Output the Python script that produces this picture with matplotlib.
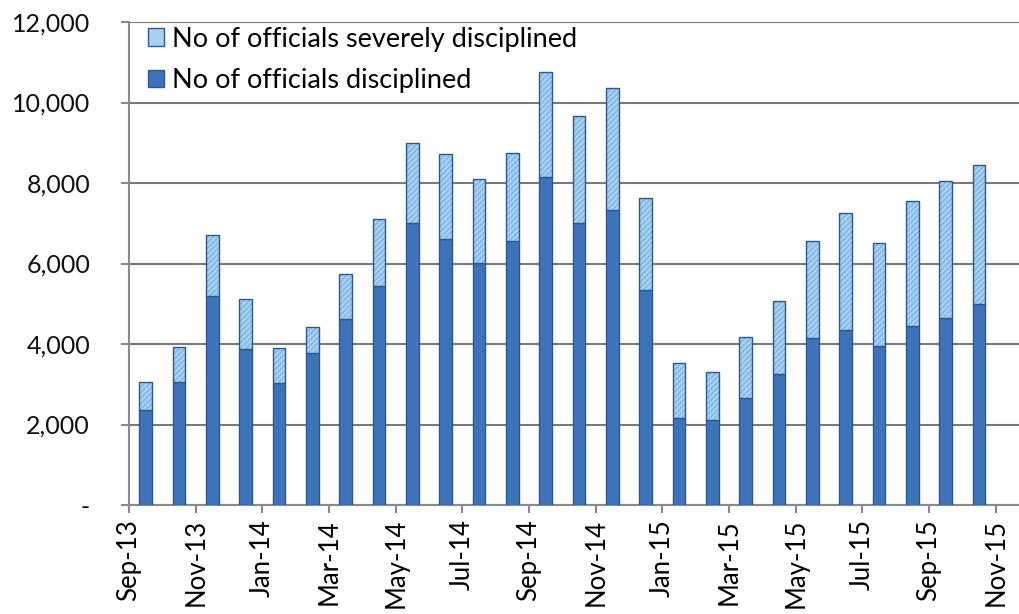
import matplotlib
matplotlib.use("Agg")
import matplotlib.pyplot as plt
from matplotlib.patches import Patch
import numpy as np

months = ["Sep-13", "Oct-13", "Nov-13", "Dec-13", "Jan-14", "Feb-14", "Mar-14",
          "Apr-14", "May-14", "Jun-14", "Jul-14", "Aug-14", "Sep-14", "Oct-14",
          "Nov-14", "Dec-14", "Jan-15", "Feb-15", "Mar-15", "Apr-15", "May-15",
          "Jun-15", "Jul-15", "Aug-15", "Sep-15", "Oct-15"]
disciplined = [2350, 3050, 5200, 3870, 3020, 3770, 4620, 5450, 7000, 6610, 6020,
               6570, 8160, 7000, 7320, 5350, 2150, 2100, 2670, 3260, 4150, 4350,
               3950, 4460, 4640, 4990]
total = [3060, 3920, 6710, 5110, 3910, 4430, 5730, 7110, 9000, 8710, 8110, 8750,
         10750, 9660, 10360, 7620, 3540, 3310, 4170, 5080, 6570, 7250, 6510, 7545,
         8060, 8460]
severely = [t - d for t, d in zip(total, disciplined)]
tick_labels = ["Sep-13", "Nov-13", "Jan-14", "Mar-14", "May-14", "Jul-14", "Sep-14",
               "Nov-14", "Jan-15", "Mar-15", "May-15", "Jul-15", "Sep-15", "Nov-15"]
y_ticks = [0, 2000, 4000, 6000, 8000, 10000, 12000]
y_labels = ["-", "2,000", "4,000", "6,000", "8,000", "10,000", "12,000"]

plt.rcParams['font.family'] = ['Lato', 'DejaVu Sans']

DARK = '#3E73B9'
EDGE = '#2A5894'
LIGHT = '#A8D0F1'
HATCH = '#7FB3E0'

fig = plt.figure(figsize=(10.19, 6.14), dpi=100)
ax = fig.add_axes([0.1266, 0.1775, 0.8734, 0.7866])

x = np.arange(len(months)) + 0.5
w = 0.38
ax.bar(x, disciplined, width=w, color=DARK, edgecolor=EDGE, linewidth=1.0, zorder=3)
ax.bar(x, severely, bottom=disciplined, width=w, color=LIGHT, edgecolor=HATCH,
       hatch='//////', linewidth=0, zorder=3)
ax.bar(x, severely, bottom=disciplined, width=w, fill=False, edgecolor=EDGE,
       linewidth=1.0, zorder=4)

ax.set_ylim(0, 12000)
ax.set_xlim(0, 26.7)
ax.set_yticks(y_ticks)
ax.set_yticklabels(y_labels, fontsize=18)
ax.set_xticks(np.arange(0, 2 * len(tick_labels), 2))
ax.set_xticklabels(tick_labels, rotation=90, fontsize=18.5)
ax.yaxis.grid(True, color='#7a7a7a', linewidth=1.5, zorder=0)
ax.set_axisbelow(True)

for s in ['top', 'right']:
    ax.spines[s].set_visible(False)
for s in ['left', 'bottom']:
    ax.spines[s].set_color('#8a8a8a')
    ax.spines[s].set_linewidth(1.5)
ax.tick_params(axis='both', color='#8a8a8a', width=1.5, length=6, pad=4)
ax.tick_params(axis='y', pad=22)
for lbl in ax.get_yticklabels():
    lbl.set_color('#111111')

handles = [Patch(facecolor=LIGHT, edgecolor=EDGE, label='No of officials severely disciplined'),
           Patch(facecolor=DARK, edgecolor=EDGE, label='No of officials disciplined')]
ax.legend(handles=handles, loc='upper left', bbox_to_anchor=(0.0, 1.03), frameon=False,
          fontsize=19.5, handlelength=0.6, handleheight=0.6, handletextpad=0.3,
          labelspacing=0.6, borderaxespad=0.3)

fig.savefig('out.png', dpi=100)
